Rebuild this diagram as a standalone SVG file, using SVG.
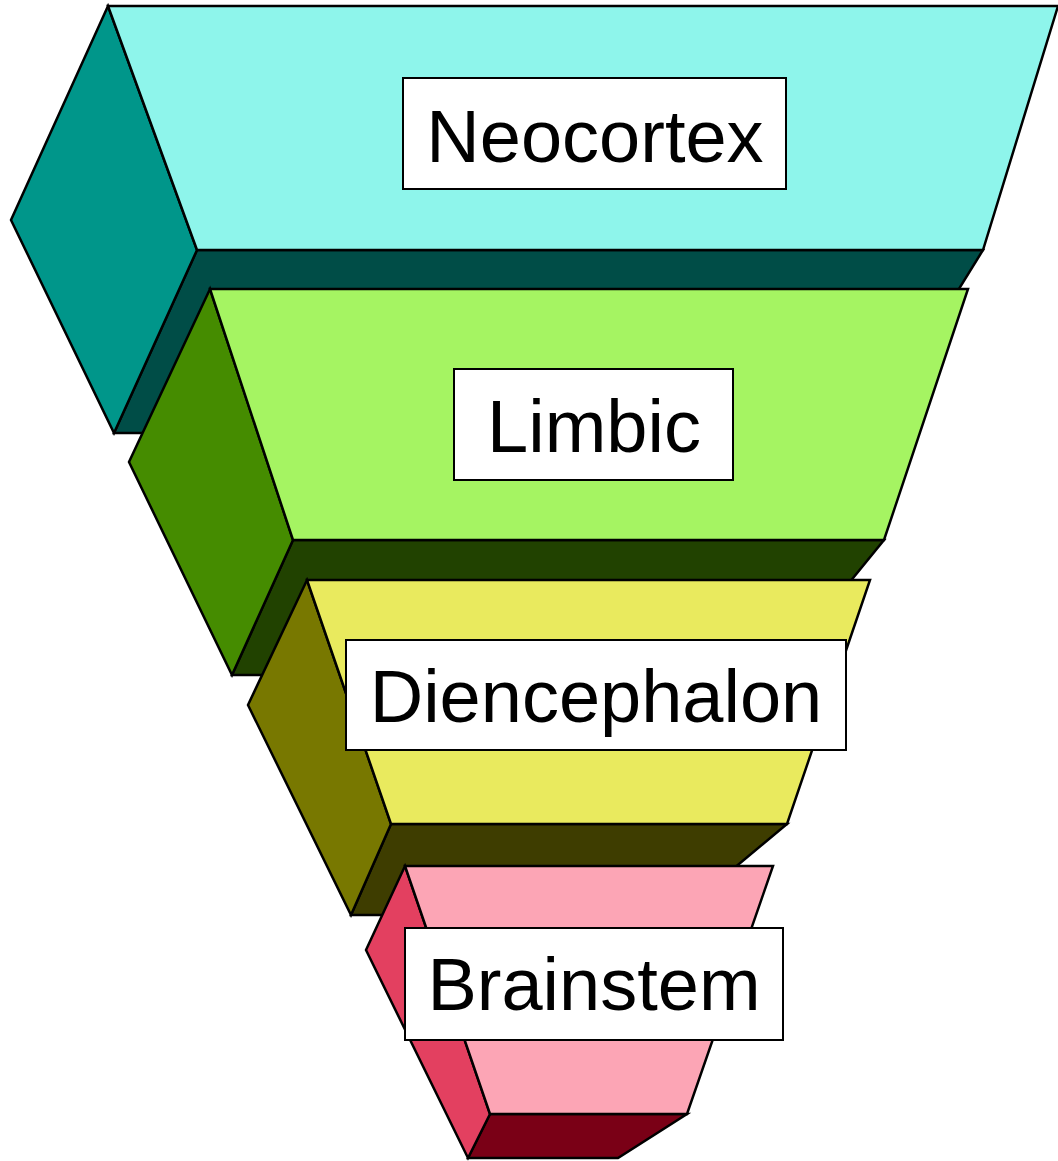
<svg xmlns="http://www.w3.org/2000/svg" width="1058" height="1161" viewBox="0 0 1058 1161">
<style>
.e{stroke:#000;stroke-width:2.5;stroke-linejoin:miter}
.box{fill:#fff;stroke:#000;stroke-width:2}
.lbl{font-family:"Liberation Sans",Arial,sans-serif;font-size:74px;fill:#000;text-anchor:middle}
</style>
<rect width="1058" height="1161" fill="#fff"/>
<g id="neocortex">
<polygon class="e" fill="#004D47" points="197,250 983,250 870,433 114,433"/>
<polygon class="e" fill="#00968A" points="108,6 11,220 114,433 197,250"/>
<polygon class="e" fill="#8EF5EB" points="108,6 1058,6 983,250 197,250"/>
<rect class="box" x="403" y="78" width="383" height="111"/>
<text class="lbl" x="595" y="162">Neocortex</text>
</g>
<g id="limbic">
<polygon class="e" fill="#214200" points="293,540 884,540 774,675 232,675"/>
<polygon class="e" fill="#458C00" points="210,289 129,462 232,675 293,540"/>
<polygon class="e" fill="#A5F462" points="210,289 968,289 884,540 293,540"/>
<rect class="box" x="454" y="369" width="279" height="111"/>
<text class="lbl" x="594" y="452">Limbic</text>
</g>
<g id="diencephalon">
<polygon class="e" fill="#3E3D00" points="391,824 787,824 678,915 351,915"/>
<polygon class="e" fill="#787800" points="307,580 248,705 351,915 391,824"/>
<polygon class="e" fill="#E9EA5E" points="307,580 870,580 787,824 391,824"/>
<rect class="box" x="346" y="640" width="500" height="110"/>
<text class="lbl" x="596" y="722">Diencephalon</text>
</g>
<g id="brainstem">
<polygon class="e" fill="#7A0016" points="490,1114 687,1114 618,1158 468,1158"/>
<polygon class="e" fill="#E34060" points="405,866 366,950 468,1158 490,1114"/>
<polygon class="e" fill="#FCA5B5" points="405,866 773,866 687,1114 490,1114"/>
<rect class="box" x="405" y="928" width="378" height="112"/>
<text class="lbl" x="594" y="1010">Brainstem</text>
</g>
<g id="connectors"></g>
</svg>
